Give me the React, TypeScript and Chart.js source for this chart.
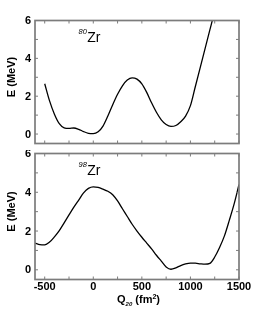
import React, { useEffect, useRef } from "react";
import { Chart, registerables } from "chart.js";

Chart.register(...registerables);

// ---- data ----
const Q80 = [-500, -450, -400, -350, -300, -250, -200, -150, -100, -50, 0, 50, 100, 150, 200, 250, 300, 350, 400, 450, 500, 550, 600, 650, 700, 750, 800, 850, 900, 950, 1000, 1050, 1100, 1150, 1200, 1250];
const E80 = [2.66, 1.75, 1.05, 0.55, 0.33, 0.3, 0.32, 0.25, 0.13, 0.04, 0.02, 0.12, 0.42, 0.95, 1.55, 2.1, 2.55, 2.85, 2.97, 2.9, 2.65, 2.2, 1.65, 1.15, 0.75, 0.5, 0.4, 0.45, 0.65, 0.95, 1.5, 2.5, 3.5, 4.5, 5.5, 6.5];

const Q98 = [-600, -550, -500, -450, -400, -350, -300, -250, -200, -150, -100, -50, 0, 50, 100, 150, 200, 250, 300, 350, 400, 450, 500, 550, 600, 650, 700, 750, 800, 850, 900, 950, 1000, 1050, 1100, 1150, 1200, 1250, 1300, 1350, 1400, 1450, 1500];
const E98 = [1.38, 1.3, 1.29, 1.43, 1.7, 2.02, 2.42, 2.83, 3.23, 3.6, 3.97, 4.2, 4.28, 4.25, 4.16, 4.05, 3.87, 3.55, 3.15, 2.75, 2.35, 2.0, 1.68, 1.38, 1.08, 0.75, 0.45, 0.15, 0.03, 0.1, 0.22, 0.3, 0.34, 0.34, 0.31, 0.29, 0.33, 0.66, 1.15, 1.75, 2.55, 3.4, 4.4];

const X_LABELS = [-500, 0, 500, 1000, 1500];
const X_MARKS = [-500, -250, 0, 250, 500, 750, 1000, 1250, 1500];
const Y_LABELS = [0, 2, 4, 6];
const Y_MARKS = [0, 1, 2, 3, 4, 5, 6];
const X_MIN = -600;
const X_MAX = 1500;
const Y_MIN = -0.5;
const Y_MAX = 6;

const FONT = "'Liberation Sans', Arial, Helvetica, sans-serif";
const FRAME = "#7c7c7c";

function framePlugin(mass: string, showX: boolean) {
  return {
    id: "frame" + mass,
    afterDatasetsDraw(chart: any) {
      const { ctx, chartArea: a, scales } = chart;
      const xs = scales.x;
      const ys = scales.y;
      ctx.save();
      const line = (x1: number, y1: number, x2: number, y2: number) => {
        ctx.beginPath();
        ctx.moveTo(x1, y1);
        ctx.lineTo(x2, y2);
        ctx.stroke();
      };
      ctx.strokeStyle = FRAME;
      ctx.lineWidth = 1;
      X_MARKS.forEach((v) => {
        const px = xs.getPixelForValue(v);
        line(px, a.bottom, px, a.bottom - 3);
        line(px, a.top, px, a.top + 3);
      });
      Y_MARKS.forEach((v) => {
        const py = ys.getPixelForValue(v);
        line(a.left, py, a.left + 3, py);
        line(a.right, py, a.right - 3, py);
      });
      ctx.lineWidth = 1.7;
      ctx.strokeRect(a.left, a.top, a.right - a.left, a.bottom - a.top);

      // y tick labels
      ctx.fillStyle = "#000";
      ctx.font = `bold 11px ${FONT}`;
      ctx.textAlign = "right";
      ctx.textBaseline = "middle";
      Y_LABELS.forEach((v) => {
        ctx.fillText(String(v), a.left - 4, ys.getPixelForValue(v) + 0.5);
      });

      // y title
      ctx.save();
      ctx.translate(12, (a.top + a.bottom) / 2 - 5);
      ctx.rotate(-Math.PI / 2);
      ctx.textAlign = "center";
      ctx.textBaseline = "middle";
      ctx.font = `bold 11px ${FONT}`;
      ctx.fillText("E (MeV)", 0, 0);
      ctx.restore();

      // nucleus annotation
      ctx.textAlign = "left";
      ctx.textBaseline = "alphabetic";
      ctx.font = `italic 7.5px ${FONT}`;
      ctx.fillText(mass, 78.5, a.top + 13);
      ctx.font = `14px ${FONT}`;
      ctx.fillText("Zr", 87.3, a.top + 21.8);

      if (showX) {
        ctx.font = `bold 11px ${FONT}`;
        ctx.textAlign = "center";
        X_LABELS.forEach((v) => {
          ctx.fillText(String(v), xs.getPixelForValue(v), a.bottom + 10);
        });
        // x title: Q20 (fm2)
        const parts: [string, string, number][] = [
          ["Q", `bold 11px ${FONT}`, 0],
          ["20", `italic bold 6px ${FONT}`, 2.5],
          [" (fm", `bold 11px ${FONT}`, 0],
          ["2", `bold 7px ${FONT}`, -4.5],
          [")", `bold 11px ${FONT}`, 0],
        ];
        let total = 0;
        parts.forEach(([t, f]) => {
          ctx.font = f;
          total += ctx.measureText(t).width;
        });
        let x = (a.left + a.right) / 2 + 1.5 - total / 2;
        const base = a.bottom + 23.5;
        ctx.textAlign = "left";
        parts.forEach(([t, f, dy]) => {
          ctx.font = f;
          ctx.fillText(t, x, base + dy);
          x += ctx.measureText(t).width;
        });
      }
      ctx.restore();
    },
  };
}

function makeChart(canvas: HTMLCanvasElement, q: number[], e: number[], mass: string, showX: boolean, padding: any) {
  return new Chart(canvas, {
    type: "line",
    data: {
      datasets: [
        {
          data: q.map((v, i) => ({ x: v, y: e[i] })),
          borderColor: "#000",
          borderWidth: 1.3,
          pointRadius: 0,
          fill: false,
          cubicInterpolationMode: "monotone",
        } as any,
      ],
    },
    options: {
      animation: false,
      responsive: false,
      layout: { padding },
      scales: {
        x: { type: "linear", min: X_MIN, max: X_MAX, display: false },
        y: { type: "linear", min: Y_MIN, max: Y_MAX, display: false },
      },
      plugins: { legend: { display: false }, tooltip: { enabled: false } },
    },
    plugins: [framePlugin(mass, showX)],
  });
}

export default function App() {
  const r1 = useRef<HTMLCanvasElement>(null);
  const r2 = useRef<HTMLCanvasElement>(null);
  useEffect(() => {
    const c1 = makeChart(r1.current!, Q80, E80, "80", false, { left: 35, right: 16, top: 20.5, bottom: 6.5 });
    const c2 = makeChart(r2.current!, Q98, E98, "98", true, { left: 35, right: 16, top: 3.5, bottom: 50.5 });
    return () => {
      c1.destroy();
      c2.destroy();
    };
  }, []);
  return (
    <div style={{ position: "fixed", left: 0, top: 0, width: 255, height: 330, background: "#fff" }}>
      <canvas ref={r1} width={255} height={150} style={{ position: "absolute", left: 0, top: 0, display: "block" }} />
      <canvas ref={r2} width={255} height={180} style={{ position: "absolute", left: 0, top: 150, display: "block" }} />
    </div>
  );
}
